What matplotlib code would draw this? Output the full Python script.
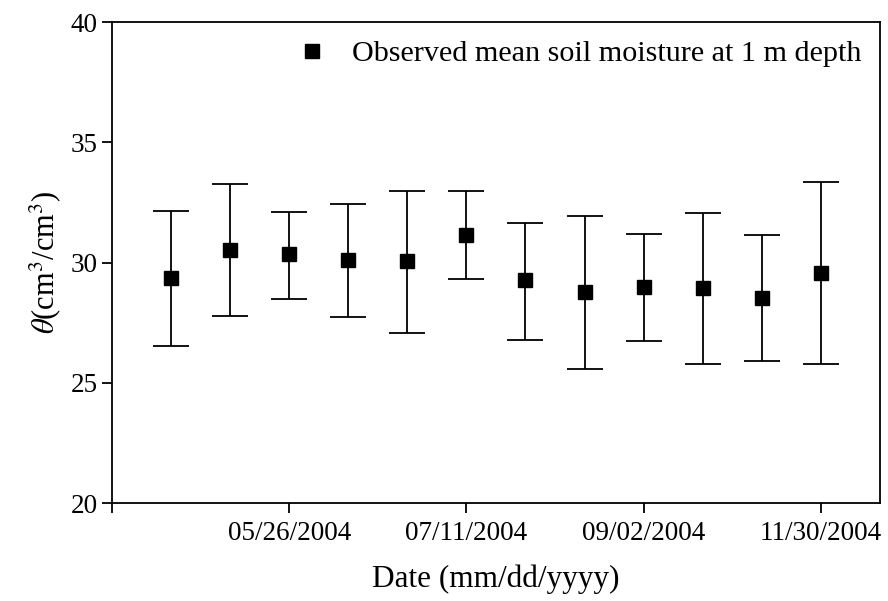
import numpy as np
import matplotlib.pyplot as plt
from matplotlib.lines import Line2D

# Observed mean soil moisture (cm3/cm3) with error bar ends
obs_index = [1, 2, 3, 4, 5, 6, 7, 8, 9, 10, 11, 12]
obs_mean = [29.37, 30.52, 30.34, 30.10, 30.06, 31.14, 29.26, 28.79, 28.99, 28.93, 28.54, 29.58]
obs_upper = [32.15, 33.26, 32.10, 32.43, 32.99, 32.96, 31.66, 31.93, 31.20, 32.06, 31.17, 33.35]
obs_lower = [26.54, 27.78, 28.50, 27.75, 27.06, 29.30, 26.78, 25.56, 26.75, 25.78, 25.90, 25.77]

tick_pos = [0, 3, 6, 9, 12]
tick_labels = ['', '05/26/2004', '07/11/2004', '09/02/2004', '11/30/2004']
y_ticks = [20, 25, 30, 35, 40]

plt.rcParams['font.family'] = ['Liberation Serif', 'DejaVu Serif']
plt.rcParams['mathtext.fontset'] = 'stix'

fig = plt.figure(figsize=(8.88, 6.01), dpi=100)
ax = fig.add_axes([0.126, 0.163, 0.865, 0.800])

mean = np.array(obs_mean)
yerr = [mean - np.array(obs_lower), np.array(obs_upper) - mean]

ax.errorbar(obs_index, obs_mean, yerr=yerr, fmt='s', color='black',
            markersize=10, ecolor='black', elinewidth=1.3, capsize=13,
            capthick=1.3)

ax.set_xlim(0, 13)
ax.set_ylim(20, 40)
ax.set_xticks(tick_pos)
ax.set_xticklabels(tick_labels)
ax.set_yticks(y_ticks)

ax.tick_params(axis='both', direction='out', length=7, width=1.3,
               labelsize=19.5, colors='black')
ax.tick_params(axis='x', pad=6)
ax.tick_params(axis='y', pad=3)
for side in ['left', 'right', 'top', 'bottom']:
    ax.spines[side].set_linewidth(1.3)

ax.set_xlabel('Date (mm/dd/yyyy)', fontsize=22.5, labelpad=13)
ax.set_ylabel(r'$\theta$(cm$^3$/cm$^3$)', fontsize=22, labelpad=6)

handle = Line2D([], [], marker='s', color='black', linestyle='none', markersize=10)
ax.legend([handle], ['Observed mean soil moisture at 1 m depth'],
          loc='upper right', frameon=False, fontsize=21.7, handletextpad=0.6,
          handlelength=1.5, borderaxespad=0.2)

plt.savefig('out.png', dpi=100)
